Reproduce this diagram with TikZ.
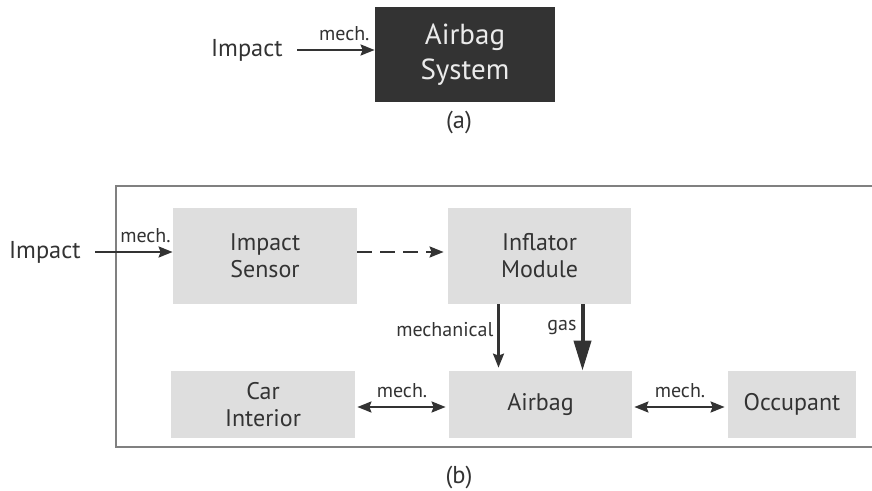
\documentclass[tikz,border=0pt]{standalone}
\usepackage{fontspec}
\setmainfont{PT Sans}
\usepackage{tikz}
\usetikzlibrary{arrows.meta}
\definecolor{boxgray}{HTML}{DEDEDE}
\definecolor{inkgray}{HTML}{333333}
\definecolor{darkbox}{HTML}{333333}
\definecolor{framegray}{HTML}{808080}

\begin{document}
\begin{tikzpicture}[x=0.5pt,y=-0.5pt,
	blk/.style={fill=boxgray,text=inkgray,align=center,inner sep=0pt,font=\fontsize{12}{13.5}\selectfont},
	word/.style={text=inkgray,inner sep=0pt,font=\fontsize{12.2}{14}\selectfont},
	lbl/.style={text=inkgray,inner sep=2pt,font=\fontsize{10}{11}\selectfont},
	arr/.style={draw=inkgray,line width=1.1pt,-{Stealth[length=7pt,width=5.5pt,inset=1pt]}},
	dbl/.style={draw=inkgray,line width=1.1pt,{Stealth[length=7pt,width=5.5pt,inset=1pt]}-{Stealth[length=7pt,width=5.5pt,inset=1pt]}}]
			\useasboundingbox (0,0) rectangle (872,491);
			\node[fill=darkbox,text=white!92!black,minimum width=90pt,minimum height=47.5pt,align=center,font=\fontsize{14.5}{17.5}\selectfont] (sys) at (465,54.5) {Airbag\\System};
			\node[word,anchor=east] (impA) at (283,50) {Impact};
			\draw[arr] ([xshift=7pt]impA.east) -- (impA.east -| sys.west) node[lbl,anchor=south east,yshift=2pt,pos=1] {mech.};
			\node[word] (capA) at (459,123) {(a)};
			\draw[framegray,line width=0.9pt] (116,186) rectangle (878,447);
			\node[blk,minimum width=92pt,minimum height=48pt] (sens) at (265,256) {Impact\\Sensor};
			\node[blk,minimum width=91.5pt,minimum height=48pt] (infl) at (539.5,256) {Inflator\\Module};
			\node[blk,minimum width=92pt,minimum height=33.5pt] (car) at (263,404.5) {Car\\Interior};
			\node[blk,minimum width=91.5pt,minimum height=33.5pt] (bag) at (540.5,404.5) {Airbag};
			\node[blk,minimum width=64pt,minimum height=33.5pt] (occ) at (792,404.5) {Occupant};
			\node[word,anchor=east] (impB) at (81,252) {Impact};
			\draw[arr] ([xshift=7pt]impB.east) -- (impB.east -| sens.west) node[lbl,anchor=south west,yshift=2pt,pos=0.26] {mech.};
			\draw[arr,dash pattern=on 7.5pt off 4pt,shorten >=2pt] ([yshift=2pt]sens.east) -- ([yshift=2pt]infl.west);
			\draw[arr,shorten >=1.5pt] ([xshift=-20.5pt]infl.south) -- ([xshift=-20.5pt]infl.south |- bag.north) node[lbl,left,pos=0.38] {mechanical};
			\draw[draw=inkgray,line width=2pt,-{Triangle[length=15pt,width=8.5pt]}] ([xshift=21.5pt]infl.south) -- ([xshift=21.5pt]infl.south |- bag.north) node[lbl,left,pos=0.35] {gas};
			\draw[dbl,shorten <=1pt,shorten >=1.5pt] ([yshift=-1.25pt]car.east) -- ([yshift=-1.25pt]bag.west) node[lbl,above=2pt,midway] {mech.};
			\draw[dbl,shorten <=1pt,shorten >=1.5pt] ([yshift=-1.25pt]bag.east) -- ([yshift=-1.25pt]occ.west) node[lbl,above=2pt,midway] {mech.};
			\node[word] (capB) at (459,477) {(b)};
		\end{tikzpicture}
\end{document}
